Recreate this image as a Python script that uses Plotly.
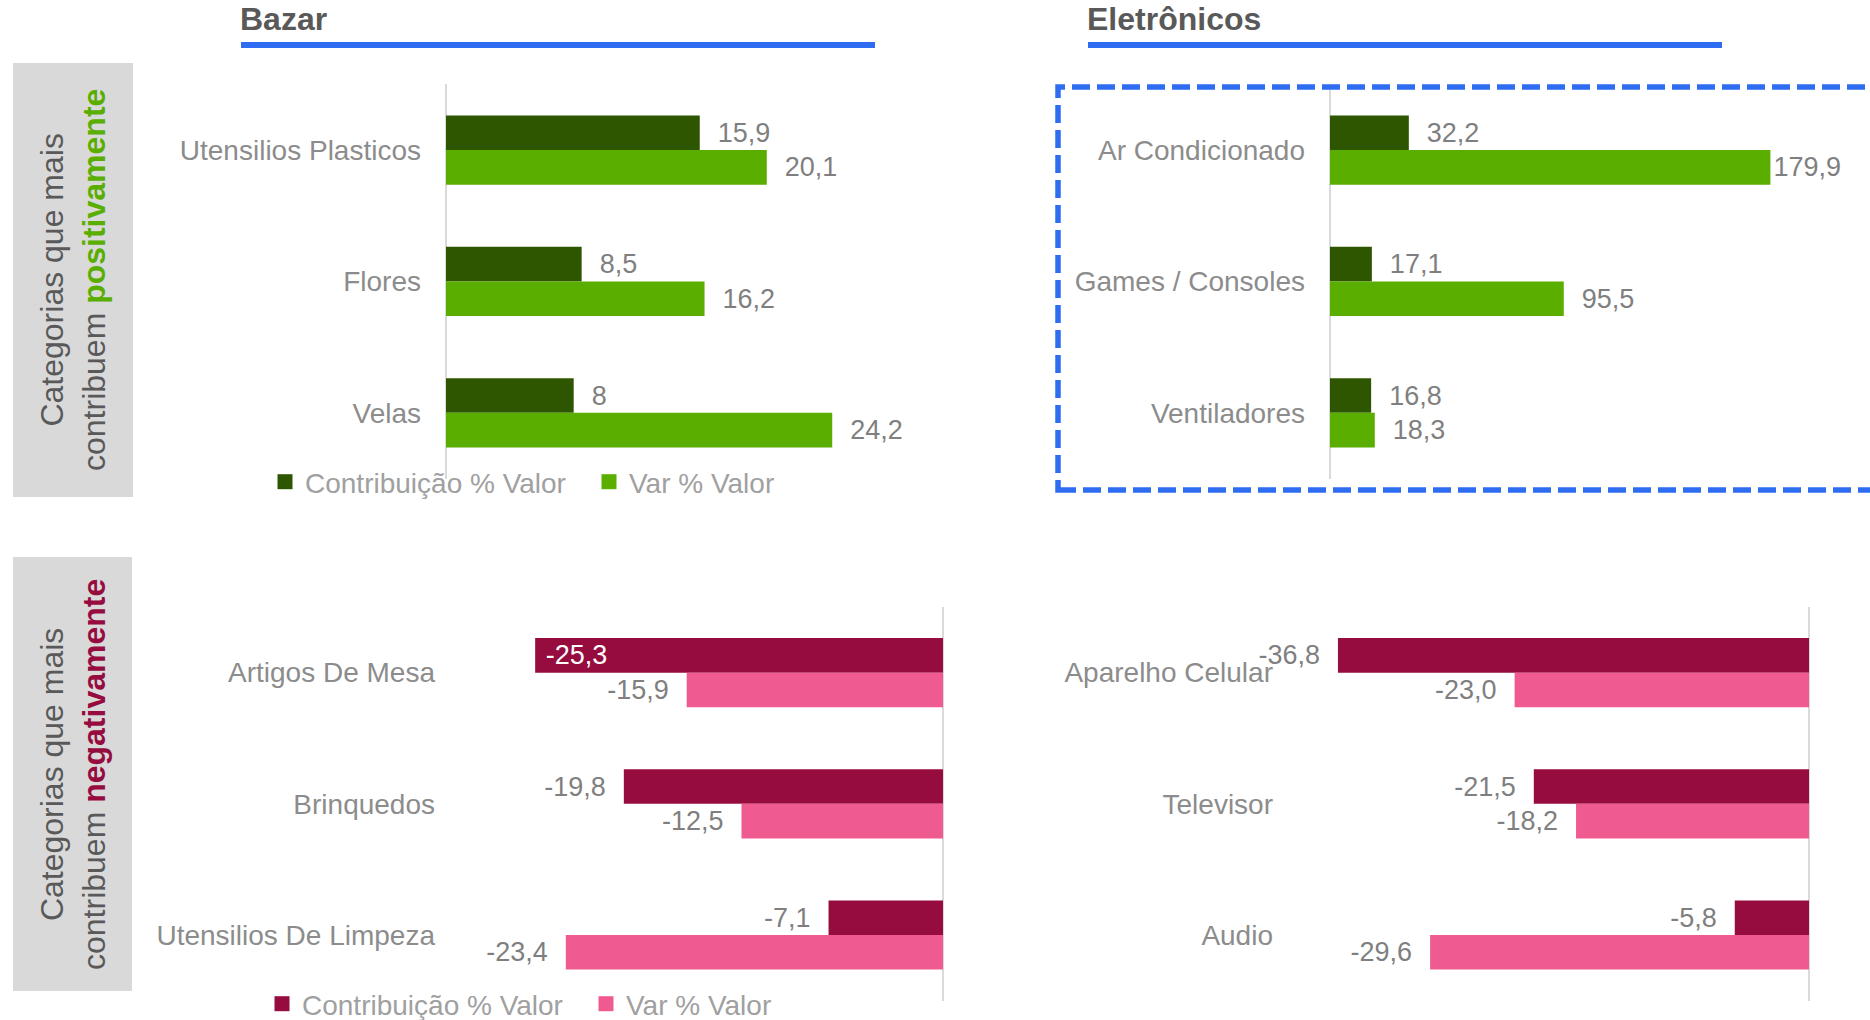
import plotly.graph_objects as go

W, H = 1870, 1020
FONT = "Liberation Sans, Arial, sans-serif"

# ---------------- data ----------------
series_names = ["Contribuição % Valor", "Var % Valor"]
panel_titles = ["Bazar", "Eletrônicos"]

bazar_pos_cats = ["Utensilios Plasticos", "Flores", "Velas"]
bazar_pos_contrib = [15.9, 8.5, 8]
bazar_pos_var = [20.1, 16.2, 24.2]

eletro_pos_cats = ["Ar Condicionado", "Games / Consoles", "Ventiladores"]
eletro_pos_contrib = [32.2, 17.1, 16.8]
eletro_pos_var = [179.9, 95.5, 18.3]

bazar_neg_cats = ["Artigos De Mesa", "Brinquedos", "Utensilios De Limpeza"]
bazar_neg_contrib = [-25.3, -19.8, -7.1]
bazar_neg_var = [-15.9, -12.5, -23.4]

eletro_neg_cats = ["Aparelho Celular", "Televisor", "Audio"]
eletro_neg_contrib = [-36.8, -21.5, -5.8]
eletro_neg_var = [-23.0, -18.2, -29.6]

# ---------------- styles ----------------
DARK_GREEN = "#2E5600"
LIGHT_GREEN = "#59AE00"
CRIMSON = "#960C3E"
PINK = "#EF5A91"
BLUE = "#2E6DF2"
LABEL_GRAY = "#7F7F7F"
CAT_GRAY = "#8C8C8C"
NB = "\u00a0\u00a0"
NB1 = "\u00a0"


def fx(px):
    return px / W


def fy(px):
    return 1 - px / H


def fmt(v):
    return str(v).replace(".", ",")


def labels(vals, inside=(), tight=()):
    out = []
    for i, v in enumerate(vals):
        if i in inside:
            out.append(NB1 + fmt(v))
        elif i in tight:
            out.append(fmt(v))
        elif v >= 0:
            out.append(NB + fmt(v))
        else:
            out.append(fmt(v) + NB)
    return out


fig = go.Figure()

# (cats, contrib, var, colours, axis suffix, inside idx for contrib, tight idx for var)
panels = [
    (bazar_pos_cats, bazar_pos_contrib, bazar_pos_var, (DARK_GREEN, LIGHT_GREEN), "", (), ()),
    (eletro_pos_cats, eletro_pos_contrib, eletro_pos_var, (DARK_GREEN, LIGHT_GREEN), "2", (), (0,)),
    (bazar_neg_cats, bazar_neg_contrib, bazar_neg_var, (CRIMSON, PINK), "3", (0,), ()),
    (eletro_neg_cats, eletro_neg_contrib, eletro_neg_var, (CRIMSON, PINK), "4", (), ()),
]

for cats, c_vals, v_vals, cols, suf, inside, tight in panels:
    for name, vals, col, ins, tig in ((series_names[0], c_vals, cols[0], inside, ()),
                                      (series_names[1], v_vals, cols[1], (), tight)):
        pos = ["inside" if i in ins else "outside" for i in range(len(vals))]
        fig.add_trace(go.Bar(
            name=name, x=vals, y=cats, orientation="h",
            marker=dict(color=col, line=dict(width=0)),
            text=labels(vals, ins, tig), textposition=pos, insidetextanchor="end",
            textangle=0, constraintext="none", cliponaxis=False,
            textfont=dict(family=FONT, size=27),
            outsidetextfont=dict(family=FONT, size=27, color=LABEL_GRAY),
            insidetextfont=dict(family=FONT, size=27, color="white"),
            xaxis="x" + suf, yaxis="y" + suf,
            showlegend=False, hoverinfo="skip",
        ))

# legend entries (square swatches) for the two legends
for leg, cols, suf in (("legend", (DARK_GREEN, LIGHT_GREEN), ""), ("legend2", (CRIMSON, PINK), "3")):
    for name, col in zip(series_names, cols):
        fig.add_trace(go.Scatter(
            name=name, x=[None], y=[None], mode="markers",
            marker=dict(symbol="square", size=15, color=col, line=dict(width=0)),
            xaxis="x" + suf, yaxis="y" + suf, legend=leg, showlegend=True, hoverinfo="skip",
        ))

# axis geometry (pixel positions)
top_dom = [fy(478.5), fy(84.4)]
bot_dom = [fy(1000.6), fy(607.1)]


def xaxis(left, right, zero, k, anchor):
    return dict(domain=[fx(left), fx(right)], range=[-(zero - left) / k, (right - zero) / k],
                showgrid=False, showticklabels=False, ticks="", zeroline=True,
                zerolinecolor="#DADADA", zerolinewidth=2, fixedrange=True, anchor=anchor)


def yaxis(cats, dom, anchor):
    return dict(domain=dom, type="category", categoryorder="array", categoryarray=cats,
                range=[2.5, -0.5], showgrid=False, zeroline=False, ticks="",
                ticklabelstandoff=24, anchor=anchor,
                tickfont=dict(family=FONT, size=28, color=CAT_GRAY), fixedrange=True)


fig.update_layout(
    xaxis=xaxis(446, 900, 446, 15.96, "y"),
    xaxis2=xaxis(1330, 1870, 1330, 2.448, "y2"),
    xaxis3=xaxis(460, 962, 943, 16.12, "y3"),
    xaxis4=xaxis(1298, 1830, 1809, 12.80, "y4"),
    yaxis=yaxis(bazar_pos_cats, top_dom, "x"),
    yaxis2=yaxis(eletro_pos_cats, top_dom, "x2"),
    yaxis3=yaxis(bazar_neg_cats, bot_dom, "x3"),
    yaxis4=yaxis(eletro_neg_cats, bot_dom, "x4"),
)

legend_common = dict(orientation="h", xanchor="left", yanchor="middle",
                     font=dict(family=FONT, size=28, color="#A0A0A0"),
                     bgcolor="rgba(0,0,0,0)", borderwidth=0,
                     entrywidth=279, entrywidthmode="pixels",
                     traceorder="normal", itemclick=False, itemdoubleclick=False)

fig.update_layout(
    width=W, height=H, autosize=False,
    margin=dict(l=0, r=0, t=0, b=0, autoexpand=False),
    paper_bgcolor="white", plot_bgcolor="rgba(0,0,0,0)",
    barmode="group", bargap=0.473, bargroupgap=0,
    font=dict(family=FONT, color=CAT_GRAY),
    legend=dict(x=fx(265), y=fy(482), **legend_common),
    legend2=dict(x=fx(262), y=fy(1004), **legend_common),
    showlegend=True,
)

shapes = [
    # grey side boxes
    dict(type="rect", xref="paper", yref="paper", x0=fx(13), x1=fx(133), y0=fy(497), y1=fy(63),
         fillcolor="#D9D9D9", line=dict(width=0), layer="below"),
    dict(type="rect", xref="paper", yref="paper", x0=fx(13), x1=fx(132), y0=fy(991), y1=fy(557),
         fillcolor="#D9D9D9", line=dict(width=0), layer="below"),
    # blue title underlines
    dict(type="rect", xref="paper", yref="paper", x0=fx(241), x1=fx(875), y0=fy(48), y1=fy(42),
         fillcolor=BLUE, line=dict(width=0)),
    dict(type="rect", xref="paper", yref="paper", x0=fx(1088), x1=fx(1722), y0=fy(48), y1=fy(42),
         fillcolor=BLUE, line=dict(width=0)),
    # dashed highlight box
    dict(type="rect", xref="paper", yref="paper", x0=fx(1058), x1=fx(1885), y0=fy(490), y1=fy(87),
         fillcolor="rgba(0,0,0,0)", line=dict(color=BLUE, width=5.5, dash="18px,7px")),
]

annotations = [
    dict(text="<b>%s</b>" % panel_titles[0], x=fx(238), y=fy(19), xref="paper", yref="paper",
         xanchor="left", yanchor="middle", showarrow=False,
         font=dict(family=FONT, size=32, color="#595959")),
    dict(text="<b>%s</b>" % panel_titles[1], x=fx(1085), y=fy(19), xref="paper", yref="paper",
         xanchor="left", yanchor="middle", showarrow=False,
         font=dict(family=FONT, size=32, color="#595959")),
    dict(text="Categorias que mais<br>contribuem <b><span style='color:%s'>positivamente</span></b>" % LIGHT_GREEN,
         x=fx(73), y=fy(280), xref="paper", yref="paper", textangle=-90, showarrow=False,
         xanchor="center", yanchor="middle", align="center",
         font=dict(family=FONT, size=32, color="#595959")),
    dict(text="Categorias que mais<br>contribuem <b><span style='color:%s'>negativamente</span></b>" % CRIMSON,
         x=fx(73), y=fy(775), xref="paper", yref="paper", textangle=-90, showarrow=False,
         xanchor="center", yanchor="middle", align="center",
         font=dict(family=FONT, size=32, color="#595959")),
]

fig.update_layout(shapes=shapes, annotations=annotations)

fig.write_html("out.html", config={"displayModeBar": False, "staticPlot": True},
               post_script="document.body.style.margin='0';document.body.style.overflow='hidden';")
